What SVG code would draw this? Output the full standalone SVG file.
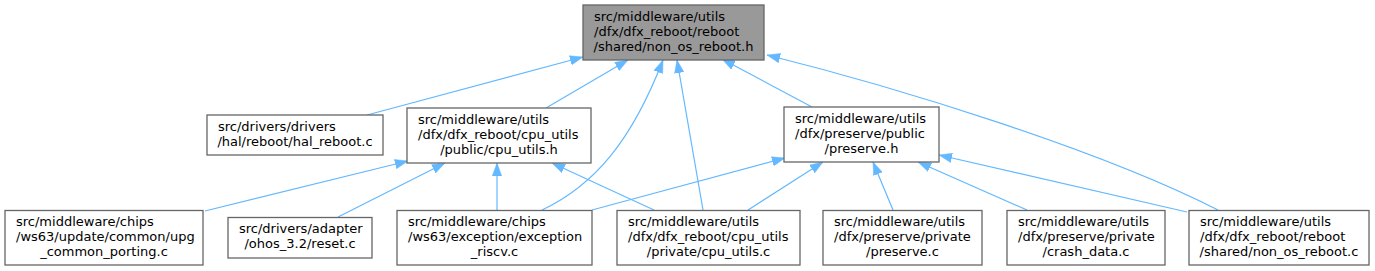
<svg xmlns="http://www.w3.org/2000/svg" width="1375" height="271" viewBox="0 0 1375 271">
<style>
.n rect{fill:#ffffff;stroke:#666666;stroke-width:1.3}
.n.hl rect{fill:#999999}
.n text{font-family:"DejaVu Sans",sans-serif;font-size:13px;fill:#000000}
.m{text-anchor:middle}
#edges path{fill:none;stroke:#63b8ff;stroke-width:1.2;marker-end:url(#ah)}
</style>
<defs>
<marker id="ah" markerUnits="userSpaceOnUse" viewBox="0 0 13 10" markerWidth="13" markerHeight="10" refX="13" refY="5" orient="auto">
<path d="M0,0.3 L13,5 L0,9.7 z" fill="#63b8ff" stroke="#63b8ff" stroke-width="0.5"/>
</marker>
</defs>
<rect width="1375" height="271" fill="#ffffff"/>
<g id="edges">
<path d="M367,115 L583,57"/>
<path d="M546,108 L628,60"/>
<path d="M542,210 C595,185 632,140 663,60"/>
<path d="M703,210 L677,60"/>
<path d="M812,107 L722,59"/>
<path d="M1218,210 C1100,150 900,88 767,55"/>
<path d="M205,211 L408,161"/>
<path d="M338,217 L445,163"/>
<path d="M497,210 L497,163"/>
<path d="M654,210 L552,163"/>
<path d="M592,210 L785,158"/>
<path d="M748,210 L823,162"/>
<path d="M893,210 L873,162"/>
<path d="M1027,210 L918,162"/>
<path d="M1187,212 L939,155"/>
</g>
<g id="node_top" class="n hl">
<rect x="583" y="5" width="181" height="55"/>
<text x="594" y="20.5">src/middleware/utils</text>
<text x="594" y="35.5">/dfx/dfx_reboot/reboot</text>
<text x="673.5" y="50.5" class="m">/shared/non_os_reboot.h</text>
</g>
<g id="node_hal_reboot" class="n">
<rect x="207" y="115" width="176" height="40"/>
<text x="218" y="130.5">src/drivers/drivers</text>
<text x="295" y="145.5" class="m">/hal/reboot/hal_reboot.c</text>
</g>
<g id="node_cpu_utils_h" class="n">
<rect x="407" y="108" width="184" height="55"/>
<text x="418" y="123.5">src/middleware/utils</text>
<text x="418" y="138.5">/dfx/dfx_reboot/cpu_utils</text>
<text x="499" y="153.5" class="m">/public/cpu_utils.h</text>
</g>
<g id="node_preserve_h" class="n">
<rect x="784" y="107" width="155" height="55"/>
<text x="795" y="122.5">src/middleware/utils</text>
<text x="795" y="137.5">/dfx/preserve/public</text>
<text x="861.5" y="152.5" class="m">/preserve.h</text>
</g>
<g id="node_upg" class="n">
<rect x="5" y="210.5" width="198" height="54.5"/>
<text x="16" y="226">src/middleware/chips</text>
<text x="16" y="241">/ws63/update/common/upg</text>
<text x="104" y="256" class="m">_common_porting.c</text>
</g>
<g id="node_reset" class="n">
<rect x="228" y="217.5" width="144" height="40.5"/>
<text x="239" y="233">src/drivers/adapter</text>
<text x="300" y="248" class="m">/ohos_3.2/reset.c</text>
</g>
<g id="node_exception" class="n">
<rect x="397" y="210.5" width="195" height="54.5"/>
<text x="408" y="226">src/middleware/chips</text>
<text x="408" y="241">/ws63/exception/exception</text>
<text x="494.5" y="256" class="m">_riscv.c</text>
</g>
<g id="node_cpu_utils_c" class="n">
<rect x="617" y="210.5" width="183" height="54.5"/>
<text x="628" y="226">src/middleware/utils</text>
<text x="628" y="241">/dfx/dfx_reboot/cpu_utils</text>
<text x="708.5" y="256" class="m">/private/cpu_utils.c</text>
</g>
<g id="node_preserve_c" class="n">
<rect x="823" y="210.5" width="159" height="54.5"/>
<text x="834" y="226">src/middleware/utils</text>
<text x="834" y="241">/dfx/preserve/private</text>
<text x="902.5" y="256" class="m">/preserve.c</text>
</g>
<g id="node_crash_data" class="n">
<rect x="1007" y="210.5" width="158" height="54.5"/>
<text x="1018" y="226">src/middleware/utils</text>
<text x="1018" y="241">/dfx/preserve/private</text>
<text x="1086" y="256" class="m">/crash_data.c</text>
</g>
<g id="node_non_os_reboot_c" class="n">
<rect x="1189" y="210.5" width="180" height="54.5"/>
<text x="1200" y="226">src/middleware/utils</text>
<text x="1200" y="241">/dfx/dfx_reboot/reboot</text>
<text x="1279" y="256" class="m">/shared/non_os_reboot.c</text>
</g>
</svg>
